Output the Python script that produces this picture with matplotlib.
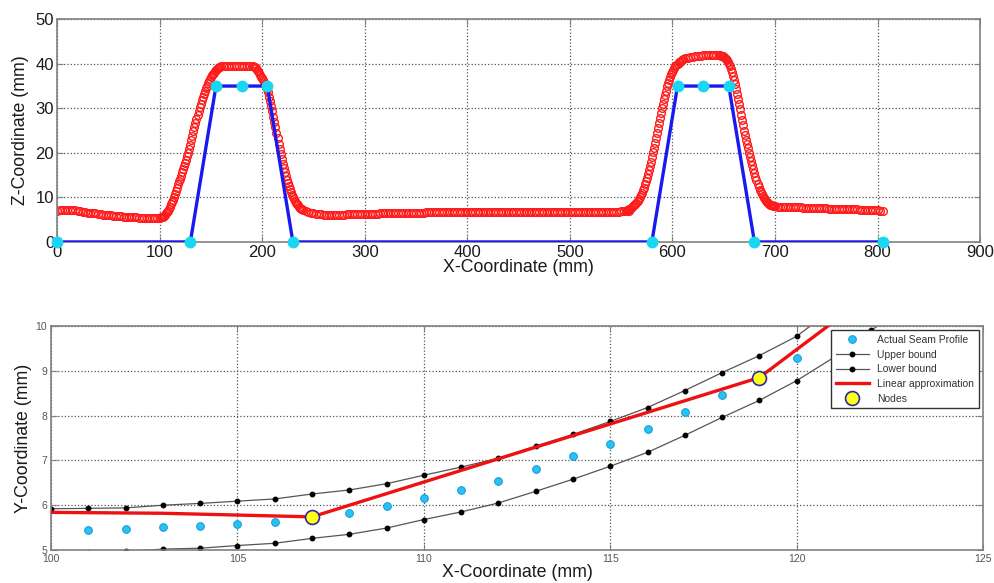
import numpy as np
import matplotlib
matplotlib.use("Agg")
import matplotlib.pyplot as plt

plt.rcParams['font.family'] = ['Liberation Sans', 'DejaVu Sans']

# ---- top chart: scanned profile (red) and node polyline (blue) ----
# segments of the scan: (start x, step, z values)
scan_segments = [
    (0, 2.5, [7.0, 7.1, 7.2, 7.2, 7.2, 7.2, 7.1, 7.1, 7.0, 6.9, 6.8, 6.7, 6.6, 6.5,
              6.4, 6.4, 6.3, 6.2, 6.1, 6.1, 6.0, 6.0, 5.9, 5.9, 5.8, 5.8, 5.7, 5.7,
              5.6, 5.6, 5.5, 5.5, 5.4, 5.4, 5.3, 5.3, 5.3, 5.3, 5.3, 5.3, 5.4]),
    (101, 1, [5.5, 5.6, 5.7, 5.9, 6.1, 6.4, 6.7, 7.0, 7.4, 7.9, 8.5, 9.0, 9.5, 10.1,
              10.8, 11.5, 12.2, 12.9, 13.6, 14.2, 14.9, 15.6, 16.3, 17.0, 17.7, 18.4,
              19.2, 20.0, 20.9, 21.8, 22.8, 23.8, 24.8, 25.7, 26.6, 27.5, 28.4, 29.3,
              30.2, 31.0, 31.8, 32.5, 33.2, 33.9, 34.5, 35.1, 35.6, 36.1, 36.6, 37.0,
              37.4, 37.7, 38.0, 38.3, 38.6, 38.8, 39.0, 39.2, 39.3, 39.4]),
    (162.5, 2.5, [39.5, 39.5, 39.5, 39.6, 39.6, 39.6, 39.6, 39.6, 39.6, 39.6, 39.6,
                  39.5]),
    (191, 1, [39.4, 39.3, 39.2, 39.0, 38.7, 38.3, 37.9, 37.5, 37.1, 36.8, 36.4, 36.0,
              35.5, 35.0, 34.4, 33.6, 32.6, 31.6, 30.5, 29.3, 28.1, 26.9, 25.7, 24.5,
              23.3, 22.1, 20.9, 19.8, 18.7, 17.6, 16.6, 15.7, 14.8, 14.0, 13.2, 12.5,
              11.8, 11.2, 10.6, 10.1, 9.6, 9.2, 8.8, 8.5, 8.2, 7.9, 7.7, 7.5, 7.3, 7.1]),
    (242.5, 2.5, [6.9, 6.7, 6.5, 6.4, 6.3, 6.2, 6.2, 6.1, 6.1, 6.1, 6.1, 6.1, 6.1,
                  6.1, 6.1, 6.1, 6.2, 6.2, 6.2, 6.2, 6.2, 6.2, 6.2, 6.3, 6.3, 6.3,
                  6.3, 6.3, 6.3, 6.4, 6.4, 6.4, 6.4, 6.4, 6.4, 6.5, 6.5, 6.5, 6.5,
                  6.5, 6.5, 6.6, 6.6, 6.6, 6.6, 6.6, 6.6, 6.7, 6.7, 6.7, 6.7, 6.7,
                  6.7, 6.8, 6.8, 6.8, 6.8, 6.8, 6.8, 6.8, 6.8, 6.8, 6.8, 6.8, 6.8,
                  6.8, 6.8, 6.8, 6.8, 6.8, 6.8, 6.8, 6.8, 6.7, 6.7, 6.7, 6.7, 6.7,
                  6.7, 6.7, 6.7, 6.7, 6.7, 6.7, 6.7, 6.7, 6.7, 6.7, 6.7, 6.7, 6.7,
                  6.7, 6.7, 6.7, 6.7, 6.7, 6.7, 6.7, 6.7, 6.7, 6.7, 6.7, 6.7, 6.7,
                  6.7, 6.7, 6.7, 6.7, 6.7, 6.7, 6.7, 6.7, 6.7, 6.7, 6.7, 6.7, 6.7,
                  6.7, 6.7, 6.7, 6.8, 6.8, 6.8, 6.9, 6.9, 7.0, 7.0]),
    (556, 1, [7.1, 7.2, 7.3, 7.4, 7.6, 7.8, 8.0, 8.2, 8.5, 8.8, 9.2, 9.6, 10.0, 10.5,
              11.0, 11.6, 12.2, 12.9, 13.6, 14.3, 15.2, 16.1, 17.0, 18.0, 19.0, 20.1,
              21.2, 22.3, 23.4, 24.5, 25.6, 26.7, 27.8, 28.9, 30.0, 31.0, 32.0, 33.0,
              34.0, 34.9, 35.7, 36.4, 37.1, 37.7, 38.2, 38.7, 39.1, 39.4, 39.7, 40.0,
              40.3, 40.5, 40.7, 40.9, 41.0]),
    (612.5, 2.5, [41.2, 41.3, 41.5, 41.6, 41.7, 41.8, 41.8, 41.9, 41.9, 42.0, 42.0,
                  42.0, 42.0, 41.9]),
    (646, 1, [41.9, 41.8, 41.8, 41.7, 41.6, 41.4, 41.1, 40.8, 40.4, 40.0, 39.4, 38.8,
              38.1, 37.3, 36.4, 35.4, 34.4, 33.3, 32.2, 31.0, 29.8, 28.6, 27.4, 26.2,
              25.0, 24.0, 23.0, 22.0, 21.0, 20.0, 19.1, 18.2, 17.2, 16.3, 15.4, 14.6,
              13.8, 13.1, 12.4, 11.7, 11.2, 10.7, 10.3, 9.9, 9.6, 9.3, 9.0, 8.8, 8.6,
              8.4, 8.3, 8.2, 8.1, 8.0, 8.0]),
    (702.5, 2.5, [7.9, 7.9, 7.9, 7.9, 7.8, 7.8, 7.8, 7.8, 7.8, 7.8, 7.7, 7.7, 7.7,
                  7.7, 7.7, 7.7, 7.6, 7.6, 7.6, 7.6, 7.5, 7.5, 7.5, 7.5, 7.4, 7.4,
                  7.4, 7.4, 7.3, 7.3, 7.3, 7.3, 7.2, 7.2, 7.2, 7.2, 7.1, 7.1, 7.1,
                  7.1, 7.0, 7.0]),
]

node_x = [0, 130, 155, 180, 205, 230, 580, 605, 630, 655, 680, 805]
node_z = [0, 0, 35, 35, 35, 0, 0, 35, 35, 35, 0, 0]

# ---- bottom chart: seam detail ----
seam_x = list(range(101, 121))
seam_y = [5.45, 5.46, 5.51, 5.53, 5.58, 5.63, 5.73, 5.83, 5.98, 6.17,
          6.34, 6.54, 6.80, 7.09, 7.36, 7.69, 8.07, 8.47, 8.85, 9.28]

upper_x = list(range(100, 122))
upper_y = [5.92, 5.93, 5.94, 6.00, 6.04, 6.09, 6.14, 6.25, 6.34, 6.48, 6.67,
           6.85, 7.05, 7.32, 7.58, 7.87, 8.18, 8.56, 8.96, 9.34, 9.77, 10.4]

lower_x = list(range(101, 124))
lower_y = [4.94, 4.97, 5.02, 5.04, 5.10, 5.15, 5.26, 5.35, 5.49, 5.68, 5.85,
           6.05, 6.31, 6.58, 6.87, 7.18, 7.56, 7.96, 8.34, 8.78, 9.30, 9.90, 10.5]

approx_x = [100, 103, 105, 107, 119, 121]
approx_y = [5.84, 5.82, 5.78, 5.74, 8.85, 10.1]

knot_x = [107, 119]
knot_y = [5.74, 8.85]

scan_x, scan_z = [], []
for start, step, vals in scan_segments:
    scan_x.extend(start + step * np.arange(len(vals)))
    scan_z.extend(vals)

fig = plt.figure(figsize=(9.95, 5.83), dpi=100)

spine_c = '#808080'
text_c = '#1a1a1a'

# top axes
ax1 = fig.add_axes([0.0573, 0.585, 0.9277, 0.382])
ax1.plot(scan_x, scan_z, 'o', mfc='none', mec='#ff1a1a', ms=5.5, mew=1.0, zorder=2)
ax1.plot(node_x, node_z, '-', color='#1a1aee', lw=2.4, zorder=3)
ax1.plot(node_x, node_z, 'o', mfc='#19d6f2', mec='#19d6f2', ms=7.5, zorder=4, clip_on=False)
ax1.set_xlim(0, 900)
ax1.set_ylim(0, 50)
ax1.set_xticks(range(0, 901, 100))
ax1.set_yticks(range(0, 51, 10))
ax1.grid(True, linestyle=':', color='#555555', lw=0.9)
ax1.tick_params(direction='in', top=True, right=True, labelsize=12, length=4,
                color=spine_c, labelcolor=text_c, pad=2)
for s in ax1.spines.values():
    s.set_color(spine_c)
    s.set_linewidth(1.2)
ax1.set_xlabel('X-Coordinate (mm)', fontsize=12.8, color=text_c, labelpad=-0.5)
ax1.set_ylabel('Z-Coordinate (mm)', fontsize=12.8, color=text_c, labelpad=5)

# bottom axes
ax2 = fig.add_axes([0.0513, 0.0566, 0.9367, 0.3842])
ax2.plot(upper_x, upper_y, '-', color='#555555', lw=0.9, marker='o', ms=3.2,
         mfc='black', mec='black', label='Upper bound', zorder=2)
ax2.plot(lower_x, lower_y, '-', color='#555555', lw=0.9, marker='o', ms=3.2,
         mfc='black', mec='black', label='Lower bound', zorder=2)
ax2.plot(seam_x, seam_y, 'o', mfc='#29c2f2', mec='#1a9ee0', ms=5.5, mew=0.8,
         label='Actual Seam Profile', zorder=3)
ax2.plot(approx_x, approx_y, '-', color='#ee1111', lw=2.4,
         label='Linear approximation', zorder=4)
ax2.plot(knot_x, knot_y, 'o', mfc='#ffff1a', mec='#2a2aa0', ms=10, mew=1.2,
         label='Nodes', zorder=5)
ax2.set_xlim(100, 125)
ax2.set_ylim(5, 10)
ax2.set_xticks(range(100, 126, 5))
ax2.set_yticks(range(5, 11))
ax2.grid(True, linestyle=':', color='#555555', lw=0.9)
ax2.tick_params(direction='in', top=True, right=True, labelsize=7.5, length=4,
                color=spine_c, labelcolor='#555555', pad=3)
ax2.tick_params(axis='y', pad=3)
for s in ax2.spines.values():
    s.set_color(spine_c)
    s.set_linewidth(1.2)
ax2.set_xlabel('X-Coordinate (mm)', fontsize=12.8, color=text_c, labelpad=0)
ax2.set_ylabel('Y-Coordinate (mm)', fontsize=12.8, color=text_c, labelpad=2)

handles, labels = ax2.get_legend_handles_labels()
order = [2, 0, 1, 3, 4]
leg = ax2.legend([handles[i] for i in order], [labels[i] for i in order],
                 loc='upper right', fontsize=7.5, fancybox=False, framealpha=1,
                 edgecolor='#333333', borderaxespad=0.4, handlelength=3.2,
                 labelspacing=0.45, borderpad=0.45)
leg.get_frame().set_linewidth(1.0)
for t in leg.get_texts():
    t.set_color('#333333')

fig.savefig('out.png', dpi=100)
